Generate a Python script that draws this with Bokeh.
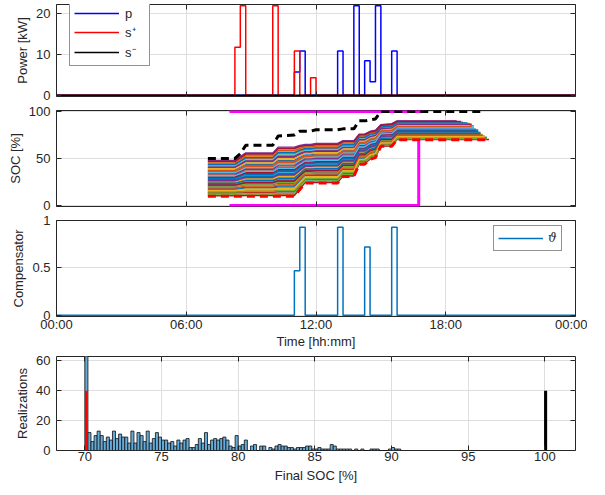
import numpy as np
from bokeh.plotting import figure
from bokeh.layouts import column
from bokeh.models import (LinearAxis, FixedTicker, Legend, LegendItem, Range1d,
                          CustomLabelingPolicy)
from bokeh.embed import file_html
from bokeh.resources import INLINE

# ---------------- data ----------------
time_ticks = [0, 6, 12, 18, 24]
time_labels = ["00:00", "06:00", "12:00", "18:00", "00:00"]
slot_hours = 0.25

# power set-points (start of 15-min slot, kW)
p_slot_start = [11.0, 11.25, 13.0, 13.75, 14.25, 14.5, 14.75, 15.5]
p_kw = [5.7, 10.9, 10.9, 22.0, 8.5, 3.3, 22.0, 10.9]
splus_slot_start = [8.25, 8.5, 10.0, 11.0, 11.75]
splus_kw = [11.8, 22.0, 22.0, 10.9, 4.3]
sminus_slot_start = []
sminus_kw = []

# compensator
theta_slot_start = [11.0, 11.25, 13.0, 14.25, 15.5]
theta_val = [0.47, 0.93, 0.93, 0.72, 0.93]

# SOC envelopes (hours, %)
soc_t = [7.0, 8.25, 8.5, 8.75, 10.0, 10.25, 11.0, 11.25, 11.5, 11.75, 12.0,
         13.0, 13.25, 13.75, 14.0, 14.25, 14.5, 14.75, 15.0, 15.5, 15.75]
soc_min = [10, 10, 10, 10, 10, 10, 10, 17, 24, 24, 24,
           24, 31, 31, 44, 44, 49, 51, 63, 63, 70]
soc_top = [48, 48, 52, 56, 56, 62, 62, 64, 65, 65, 66,
           66, 69, 69, 76, 76, 79, 80, 86, 87, 90]
soc_max = [50, 50, 55, 64, 64, 74, 75, 79, 79, 79, 80.5,
           80.5, 81.5, 81.5, 90, 90, 91, 92, 100, 100, 100]
soc_min_end = 20.0
soc_max_end = 19.75

# realizations: relative position inside the band and end hour
spag_frac = [0.52, 0.08, 0.91, 0.33, 0.67, 0.15, 0.79, 0.44, 0.03, 0.60,
             0.26, 0.86, 0.48, 0.12, 0.73, 0.38, 0.95, 0.21, 0.56, 0.06,
             0.82, 0.30, 0.64, 0.18, 0.98, 0.41, 0.70, 0.10, 0.50, 0.88,
             0.24, 0.58, 0.35, 0.76, 0.01, 0.46, 0.93, 0.14, 0.62, 0.28,
             0.84, 0.54, 0.19, 0.71, 0.40, 1.00, 0.05, 0.66, 0.31, 0.89,
             0.23, 0.77, 0.43, 0.11, 0.57, 0.97, 0.36, 0.69, 0.16, 0.81]
spag_end = [19.5, 19.8, 18.9, 19.6, 19.2, 19.9, 19.0, 19.4, 19.9, 19.3,
            19.7, 19.1, 19.5, 19.8, 19.3, 19.6, 18.6, 19.7, 19.4, 19.9,
            19.2, 19.6, 19.3, 19.8, 18.5, 19.5, 19.0, 19.9, 19.4, 18.9,
            19.7, 19.2, 19.6, 19.1, 20.0, 19.5, 18.8, 19.8, 19.3, 19.7,
            19.0, 19.4, 19.8, 19.2, 19.6, 18.5, 19.9, 19.3, 19.6, 19.0,
            19.7, 19.1, 19.5, 19.8, 19.4, 18.7, 19.6, 19.2, 19.8, 19.1]

# SOC bounds
bound_start = 8.0
bound_upper_end = 17.0
bound_lower_end = 16.75
bound_upper = 100
bound_lower = 0
bound_final = 70

# histogram of final SOC
hist_first_bin = 70.0
hist_bin_width = 0.2
hist_counts = [75, 12, 6, 10, 13, 10, 6, 9, 7, 13,
               8, 11, 9, 9, 5, 13, 5, 12, 10, 6,
               13, 5, 8, 12, 9, 7, 7, 5, 6, 3,
               7, 5, 7, 8, 2, 2, 4, 8, 5, 12,
               4, 7, 8, 7, 8, 9, 7, 3, 2, 10,
               3, 4, 7, 0, 3, 4, 0, 3, 3, 0,
               2, 1, 3, 4, 3, 3, 2, 2, 1, 2,
               2, 2, 3, 3, 1, 1, 2, 1, 1, 1,
               4, 3, 1, 1, 1, 1, 1, 0, 1, 0,
               1, 0, 0, 1, 1, 1, 0, 0, 0, 1,
               2, 1, 1]
hist_min_soc = 70
hist_min_count = 40
hist_max_soc = 100
hist_max_count = 40

# ---------------- style ----------------
FONT = "Liberation Sans"
AX = "#262626"
GRID = "#DEDEDE"
MATLAB = ["#0072BD", "#D95319", "#EDB120", "#7E2F8E", "#77AC30", "#4DBEEE", "#A2142F"]
LEFT = 56
FRAME_W = 519
RIGHT = 12
W = LEFT + FRAME_W + RIGHT


def stairs(starts, vals):
    n = int(round(24 / slot_hours))
    lv = [0.0] * n
    for s, v in zip(starts, vals):
        lv[int(round(s / slot_hours))] = v
    xs, ys = [], []
    for i, v in enumerate(lv):
        xs += [i * slot_hours, (i + 1) * slot_hours]
        ys += [v, v]
    return xs, ys


def make_fig(height, top, bottom, x_range, y_range):
    p = figure(width=W, height=height, output_backend="svg", toolbar_location=None,
               x_range=x_range, y_range=y_range,
               min_border_left=LEFT, min_border_right=RIGHT,
               min_border_top=top, min_border_bottom=bottom)
    p.background_fill_color = "white"
    p.border_fill_color = "white"
    p.outline_line_color = AX
    p.outline_line_width = 1
    p.xgrid.grid_line_color = GRID
    p.ygrid.grid_line_color = GRID
    return p


def no_labels():
    return CustomLabelingPolicy(code="for (const i of Array.from(indices)) { indices.unset(i) }")


def style_axis(ax, ticks, show_labels=True, overrides=None):
    ax.ticker = FixedTicker(ticks=ticks)
    ax.axis_line_color = None
    ax.major_tick_in = 5
    ax.major_tick_out = 0
    ax.major_tick_line_color = AX
    ax.minor_tick_line_color = None
    ax.major_label_text_font = FONT
    ax.major_label_text_color = AX
    ax.axis_label_text_font = FONT
    ax.axis_label_text_font_size = "13px"
    ax.axis_label_text_font_style = "normal"
    ax.axis_label_text_color = AX
    if show_labels:
        ax.major_label_text_font_size = "13px"
    else:
        ax.major_label_text_font_size = "1px"
        ax.major_label_standoff = 0
        ax.major_label_policy = no_labels()
    if overrides:
        ax.major_label_overrides = overrides


def box_axes(p, xticks, yticks):
    ra = LinearAxis()
    style_axis(ra, yticks, show_labels=False)
    p.add_layout(ra, "right")
    ta = LinearAxis()
    style_axis(ta, xticks, show_labels=False)
    p.add_layout(ta, "above")


def ylabel(p, text):
    ax = p.yaxis[0]
    ax.axis_label = text
    ax.major_label_standoff = 6
    ax.axis_label_standoff = 3
    ax.axis_label_text_baseline = "middle"


time_over = {t: l for t, l in zip(time_ticks, time_labels)}

# ---------------- panel 1: power ----------------
p1 = make_fig(103, 1, 7, Range1d(0, 24), Range1d(-0.3, 22.3))
style_axis(p1.xaxis[0], time_ticks, show_labels=False)
style_axis(p1.yaxis[0], [0, 10, 20])
ylabel(p1, "Power [kW]")
box_axes(p1, time_ticks, [0, 10, 20])
xs, ys = stairs(p_slot_start, p_kw)
r_p = p1.line(xs, ys, line_color="#0000FF", line_width=1.5)
xs, ys = stairs(splus_slot_start, splus_kw)
r_sp = p1.line(xs, ys, line_color="#FF0000", line_width=1.5)
xs, ys = stairs(sminus_slot_start, sminus_kw)
r_sm = p1.line(xs, ys, line_color="#000000", line_width=1.5)
leg1 = Legend(items=[LegendItem(label="p", renderers=[r_p]),
                     LegendItem(label="s\u207a", renderers=[r_sp]),
                     LegendItem(label="s\u207b", renderers=[r_sm])],
              location=(13, 30), orientation="vertical",
              border_line_color=AX, border_line_width=1,
              background_fill_color="white", background_fill_alpha=1.0,
              label_text_font=FONT, label_text_font_size="13px", label_text_color=AX,
              glyph_width=45, glyph_height=16, label_height=16, label_standoff=6,
              padding=4, spacing=2, margin=0)
p1.add_layout(leg1)

# ---------------- panel 2: SOC ----------------
p2 = make_fig(110, 7, 7, Range1d(0, 24), Range1d(-1, 101))
style_axis(p2.xaxis[0], time_ticks, show_labels=False)
style_axis(p2.yaxis[0], [0, 50, 100])
ylabel(p2, "SOC [%]")
box_axes(p2, time_ticks, [0, 50, 100])
sx, sy, sc = [], [], []
for k, (f, e) in enumerate(zip(spag_frac, spag_end)):
    y = [lo + f * (hi - lo) for lo, hi in zip(soc_min, soc_top)]
    sx.append(soc_t + [e])
    sy.append(y + [y[-1]])
    sc.append(MATLAB[k % len(MATLAB)])
p2.multi_line(xs=sx, ys=sy, line_color=sc, line_width=1.3)
p2.line([bound_start, bound_upper_end], [bound_upper, bound_upper],
        line_color="#FF00FF", line_width=3)
p2.line([bound_start, bound_lower_end, bound_lower_end], [bound_lower, bound_lower, bound_final],
        line_color="#FF00FF", line_width=3)
p2.line(soc_t + [soc_max_end], soc_max + [soc_max[-1]], line_color="#000000",
        line_width=3, line_dash="8 5")
p2.line(soc_t + [soc_min_end], soc_min + [soc_min[-1]], line_color="#FF0000",
        line_width=3, line_dash="8 5")

# ---------------- panel 3: compensator ----------------
p3 = make_fig(139, 7, 36, Range1d(0, 24), Range1d(-0.012, 1.0))
style_axis(p3.xaxis[0], time_ticks, overrides=time_over)
style_axis(p3.yaxis[0], [0, 0.5, 1], overrides={0: "0", 0.5: "0.5", 1: "1"})
p3.xaxis[0].axis_label = "Time [hh:mm]"
p3.xaxis[0].major_label_standoff = 0
p3.xaxis[0].axis_label_standoff = -1
ylabel(p3, "Compensator")
box_axes(p3, time_ticks, [0, 0.5, 1])
xs, ys = stairs(theta_slot_start, theta_val)
r_th = p3.line(xs, ys, line_color="#0072BD", line_width=1.5)
leg3 = Legend(items=[LegendItem(label="\u03d1", renderers=[r_th])],
              location=(437, 65), orientation="vertical",
              border_line_color=AX, border_line_width=1,
              background_fill_color="white", background_fill_alpha=1.0,
              label_text_font="DejaVu Serif", label_text_font_style="italic",
              label_text_font_size="12px", label_text_color=AX,
              glyph_width=45, glyph_height=16, label_height=16, label_width=8,
              label_standoff=5, padding=4, spacing=2, margin=0)
p3.add_layout(leg3)

# ---------------- panel 4: histogram ----------------
p4 = make_fig(133, 4, 34, Range1d(68.15, 102.0), Range1d(0, 63))
hx_ticks = [70, 75, 80, 85, 90, 95, 100]
style_axis(p4.xaxis[0], hx_ticks)
style_axis(p4.yaxis[0], [0, 20, 40, 60])
p4.xaxis[0].axis_label = "Final SOC [%]"
p4.xaxis[0].major_label_standoff = 1
p4.xaxis[0].axis_label_standoff = 4
ylabel(p4, "Realizations")
box_axes(p4, hx_ticks, [0, 20, 40, 60])
lefts = [hist_first_bin + i * hist_bin_width for i in range(len(hist_counts))]
rights = [l + hist_bin_width for l in lefts]
p4.quad(left=lefts, right=rights, bottom=0, top=hist_counts,
        fill_color="#66AAD7", line_color="#111111", line_width=0.8)
p4.quad(left=[hist_min_soc + 0.01], right=[hist_min_soc + 0.18], bottom=[0], top=[hist_min_count],
        fill_color="#FF0000", line_color=None)
p4.quad(left=[hist_max_soc - 0.05], right=[hist_max_soc + 0.15], bottom=[0], top=[hist_max_count],
        fill_color="#000000", line_color=None)

layout = column(p1, p2, p3, p4)
open("out.html", "w").write(file_html(layout, INLINE))
